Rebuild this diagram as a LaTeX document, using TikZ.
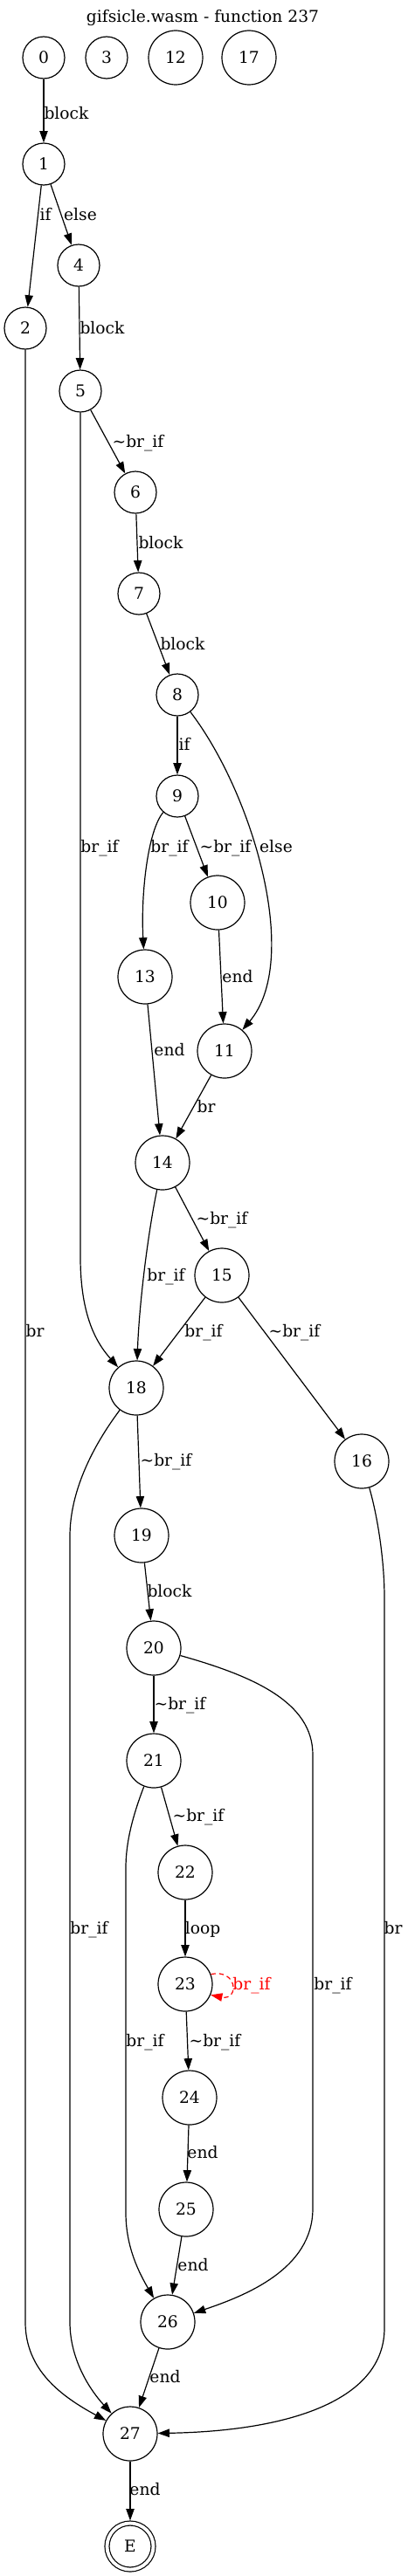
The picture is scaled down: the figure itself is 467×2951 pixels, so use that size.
\documentclass[tikz,border=0pt]{standalone}
\usepackage{fontspec}
\setmainfont{DejaVu Serif}
\usetikzlibrary{arrows.meta}

\begin{document}
\begin{tikzpicture}[x=0.75pt, y=-0.75pt,
  blk/.style={circle, draw, line width=0.9pt, minimum size=36pt, inner sep=0pt, font=\fontsize{14}{17}\selectfont},
  blkw/.style={blk, minimum size=46.5pt},
  fin/.style={blk, minimum size=39.75pt, double, double distance=2.85pt, outer sep=2.3pt},
  edge/.style={line width=0.9pt, -{Triangle[length=10pt,width=7pt]}},
  lbl/.style={font=\fontsize{14}{17}\selectfont, inner sep=0pt, text height=10pt, text depth=0pt}
]

\useasboundingbox (0,0) rectangle (467,2951);

\node[lbl] (title) at (232,19) {gifsicle.wasm - function 237};

% blocks
\foreach \n/\x/\y in {0/50/66, 3/122/66, 1/50/188, 4/90/304, 2/29/376, 5/92/448,
                      6/155/564, 7/159/680, 8/203/796, 9/203/912}
\node[blk] (n\n) at (\x,\y) {\n};

\foreach \n/\x/\y in {12/201/66, 17/285/66, 10/249/1034, 13/166/1119, 11/257/1204,
                      14/186/1332, 15/254/1461, 18/156/1590, 16/414/1674, 19/162/1759,
                      20/176/1888, 21/176/2017, 22/212/2145, 23/212/2273, 24/217/2403,
                      25/213/2531, 26/192/2660, 27/149/2788}
\node[blkw] (n\n) at (\x,\y) {\n};

\node[fin] (nE) at (149,2917) {E};

% straight edges
\foreach \a/\b in {n0/n1, n1/n2, n1/n4, n4/n5, n5/n6, n6/n7, n7/n8, n8/n9, n9/n10,
                   n10/n11, n11/n14, n13/n14, n14/n15, n15/n18, n15/n16, n18/n19,
                   n19/n20, n20/n21, n21/n22, n22/n23, n23/n24, n24/n25, n25/n26,
                   n26/n27, n27/nE}
\draw[edge] (\a) -- (\b);

% bent edges
\draw[edge] (n9) .. controls (170,950) and (161,1020) .. (n13);
\draw[edge] (n8) .. controls (290,910) and (345,1100) .. (n11);
\draw[edge] (n14) .. controls (168,1420) and (159,1500) .. (n18);
\draw[edge] (n5) -- (92,1440) .. controls (92,1510) and (112,1540) .. (n18);
\draw[edge] (n2) -- (29,2660) .. controls (29,2715) and (70,2745) .. (n27);
\draw[edge] (n18) .. controls (100,1665) and (80,1715) .. (80,1760) -- (80,2660)
  .. controls (80,2705) and (105,2740) .. (n27);
\draw[edge] (n16) .. controls (433,1740) and (440,1790) .. (440,1830) -- (440,2667)
  .. controls (440,2750) and (330,2785) .. (n27);
\draw[edge] (n20) .. controls (290,1920) and (358,1950) .. (358,2010) -- (358,2530)
  .. controls (358,2600) and (280,2630) .. (n26);
\draw[edge] (n21) .. controls (152,2080) and (144,2110) .. (144,2140) -- (144,2535)
  .. controls (144,2575) and (160,2605) .. (n26);

% loop
\draw[edge, red, dash pattern=on 4pt off 3pt] (n23.21) .. controls (272,2255) and (274,2292) .. (n23.-23);
\node[lbl, red] (lloop) at (288,2273) {br\_if};

% edge labels
\foreach \x/\y/\t [count=\i] in {76/130/block, 52/246/if, 92/246/else, 117/376/block,
    158/506/\textasciitilde br\_if, 184/622/block, 209/738/block, 211/853/if,
    114/970/br\_if, 194/970/br\_if, 258/970/\textasciitilde br\_if, 316/970/else,
    272/1119/end, 194/1203/end, 236/1268/br, 254/1396/\textasciitilde br\_if,
    190/1461/br\_if, 40/1525/br, 233/1525/br\_if, 337/1525/\textasciitilde br\_if,
    190/1673/\textasciitilde br\_if, 194/1823/block, 206/1952/\textasciitilde br\_if,
    227/2080/\textasciitilde br\_if, 102/2209/br\_if, 232/2209/loop, 450/2209/br,
    381/2273/br\_if, 166/2338/br\_if, 246/2338/\textasciitilde br\_if,
    232/2466/end, 221/2595/end, 189/2723/end, 166/2852/end}
\node[lbl] (lab\i) at (\x,\y) {\t};

\end{tikzpicture}
\end{document}
